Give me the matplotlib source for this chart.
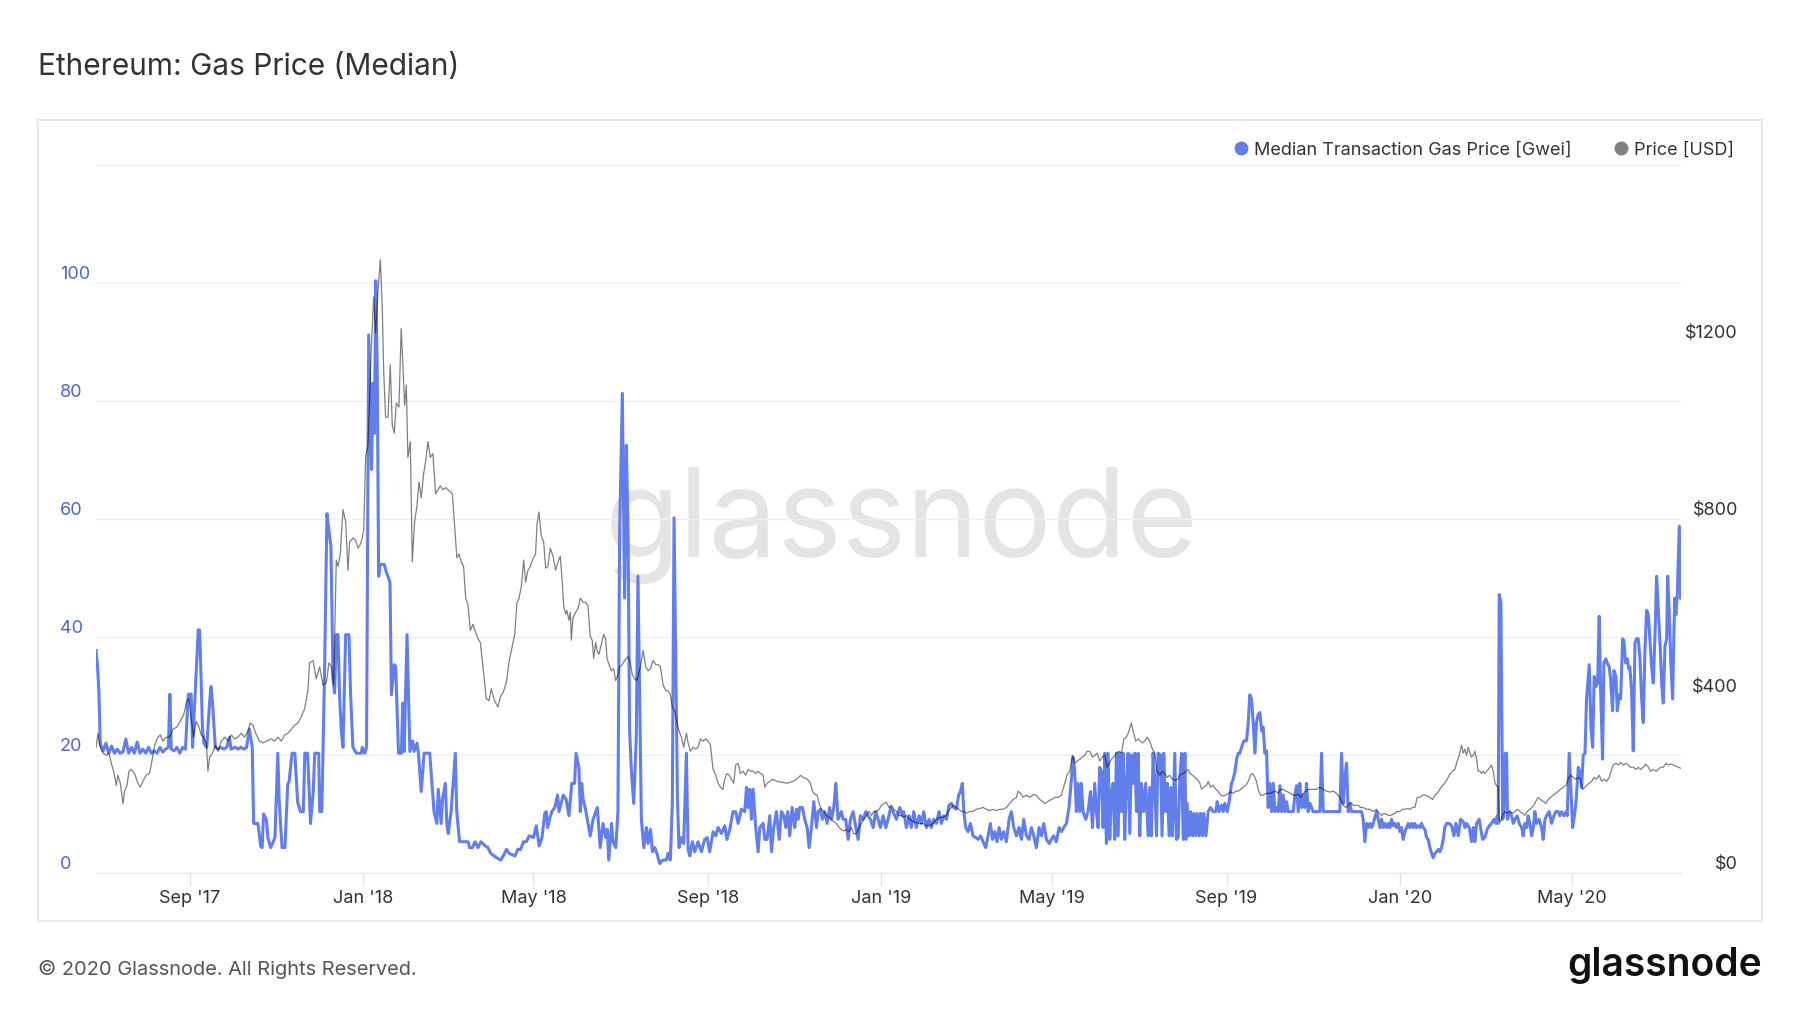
import numpy as np
import matplotlib
matplotlib.use("Agg")
import matplotlib.pyplot as plt
import matplotlib.dates as mdates
from matplotlib.lines import Line2D
from matplotlib.patches import Rectangle

plt.rcParams['font.family'] = ['Inter', 'DejaVu Sans']

### data (x = days after 2017-06-27)
START = "2017-06-27"

gas_day = [
    0, 1, 2, 3, 5, 7, 9, 11, 13, 15, 17, 19, 21, 23, 25, 27, 29, 31, 33, 35, 37, 39, 41, 43, 45, 47, 49, 51,
    52, 53, 55, 57, 59, 61, 63, 65, 67, 68, 71, 72, 73, 75, 76, 78, 80, 81, 82, 84, 86, 88, 90, 92, 94, 95,
    98, 100, 102, 104, 106, 108, 110, 111, 114, 116, 117, 118, 120, 121, 123, 126, 128, 129, 131, 133, 135,
    136, 138, 140, 142, 144, 146, 147, 149, 151, 153, 154, 156.8, 157.5, 159, 161, 162.6, 164.5, 165.4,
    166.9, 168, 169.2, 170.4, 171.5, 172.7, 173.9, 175.8, 178.1, 179.3, 180.9, 183.3, 186.8, 187.5, 189.2,
    190.5,
    192, 194, 195, 196, 197, 198, 199, 200, 203, 204, 207, 208, 210, 211, 213, 215, 216, 217, 219, 221, 223,
    224, 226, 227, 229, 231, 235, 237, 238, 240, 241, 243, 244, 246, 247, 248, 250, 253, 254, 256, 262, 263,
    265, 267, 269, 271, 274, 276, 278, 282, 285, 287, 289, 291, 295, 297, 299, 301, 303, 305, 308, 310, 312,
    314, 316, 317, 318, 320, 321, 323, 325, 326, 329, 331, 333, 335, 337, 338, 340, 341, 342, 343, 345, 348,
    350, 353, 355, 357, 359, 360, 361, 363, 364, 366, 367.5, 368.7, 370.6, 372.2, 373.4, 374.6, 375.7, 377,
    378.6, 380.4, 381.6,
    384, 385.7, 387.5, 388.7, 390.4, 391.8, 393.4, 395, 396.9, 399.3, 401.6, 402.8, 404.4, 405.8, 407, 408.2,
    409.4, 410.5, 412.2, 413.8, 415.7, 416.9, 418.1, 419.9, 421.6, 423.9, 426.3, 428.6, 430.3, 432.1, 434.5,
    436.4, 438, 440.4, 442.7, 444.3, 446.2, 448.6, 450.4, 452.1, 454.4, 456.8, 458, 459.1, 460.3, 461.5,
    462.7, 464.5, 466.2, 467.4, 469.7, 470.9, 472.5, 474.4, 475.6, 477.2, 479.1, 481, 482.6, 484.3, 485.7,
    487.1, 488.5, 490.1, 492, 493.2, 494.3, 495.5, 497.4, 499, 500.7, 502.1, 503.7, 505.4, 507.3, 508.4,
    510.1, 511.5, 513.1, 514.8, 516.6, 517.8, 519.5, 520.9, 522.5, 524.9, 526, 527.9, 529.6, 531.2, 533.1,
    535, 536.6, 538.2, 540.1, 542, 543.6, 545.3, 547.2, 549, 550.7, 552.3, 554.2, 556.1, 557.7, 559.6,
    561.2, 563.6, 565.9, 567.8,
    568.7, 570.6, 572.5, 574.1, 575.8, 577.6, 579.5, 581.2, 582.8, 584.7, 586.6, 588.2, 589.8, 591.7, 593.6,
    595.2, 596.9, 598.8, 600.6, 602.3, 603.9, 605.8, 607.4, 608.6, 610, 611, 612.4, 614, 615.7, 617.5, 619.4,
    621.1, 622.7, 624.6, 626.5, 628.1, 629.7, 631.2, 632.8, 634.4, 635.9, 637.5, 639.1, 641, 642.9, 644.5,
    646.2, 648.1, 649.9, 651.6, 653.2, 655.1, 657, 658.6, 660.3, 662.1, 664, 665.7, 667.3, 669.2, 671.1,
    672.7, 674.3, 676.2, 678.1, 679.7, 681.4, 683.3, 685.1, 686.8, 688, 689.1, 690.3, 691.5, 692.7, 693.8,
    695, 696.9, 698.5, 700.2, 701.6, 703.2, 704.4, 705.6, 706.7, 707.9, 709.1, 710.3, 711.4, 712.6, 713.8,
    715, 716.1, 717.3, 718.5, 719.7, 720.8, 722, 723.2, 724.3, 725.5, 726.7, 727.9, 729, 730.2, 731.4,
    732.6, 733.7, 734.9, 736.1, 737.7, 739.1, 740.8, 742, 743.1, 744.3, 745.5, 746.7, 747.8, 749.5, 750.6,
    751.8, 753, 754.2, 755.6, 756.7, 757.9, 759.6, 760.7,
    762, 763.1, 764.3, 765.5, 766.7, 767.4, 768.3, 769.7, 770.7, 772.1, 773, 774.4, 775.3, 776.8, 777.7,
    779.1, 780, 781.5, 783.1, 784.7, 786.6, 788.5, 789.4, 790.8, 792.5, 793.7, 794.8, 796.5, 797.9, 799.5,
    800.7, 801.9, 803.1, 804.2, 805.4, 806.6, 808.2, 810.1, 811.3, 812.4, 813.6, 814.8, 816, 817.1, 818.3,
    819.5, 820.7, 821.8, 823, 824.2, 825.3, 826.5, 827.7, 828.9, 830, 831.2, 832.4, 833.6, 834.7, 835.9,
    837.1, 838.3, 839.4, 843, 844.1, 845.3, 846.5, 847.6, 848.8, 850, 851.2, 852.3, 853.5, 854.7, 855.9,
    857, 861.7, 862.9, 864.1, 875.8, 877, 878.2, 879.3, 880.5, 881.7, 882.9, 884, 891.1, 892.2, 893.4,
    894.6, 895.8, 896.9, 898.1, 899.3, 901.6, 902.8, 904, 905.2, 906.3, 907.5, 908.7, 909.9, 911, 912.2,
    913.4, 914.5, 915.7, 916.9, 918.1, 919.2, 920.4, 921.6, 922.8, 923.9, 925.1, 926.3, 927.5, 928.6, 929.8,
    931, 932.2, 933.3, 934.5, 935.7, 936.9, 938, 939.2, 940.4, 941.5, 942.7, 943.9, 945.1, 946.2, 947.4,
    948.6, 949.7, 950.9,
    952.8, 954.5, 956.1, 957.5, 959.2, 960.8, 962.7, 963.9, 965, 966.9, 968.5, 969.7, 970.9, 972.1, 973.9,
    974.9, 976.3, 977.9, 979.6, 981, 982.6, 984.3, 985.7, 986.6, 987.3, 988, 989.2, 990.4, 991.3, 992.3,
    993.2, 993.9, 995.1, 996.7, 997.9, 999.1, 1000.7, 1002.1, 1003.8, 1004.9, 1006.1, 1007.3, 1008.4,
    1009.6, 1010.8, 1012, 1013.1, 1014.3, 1016.2, 1017.8, 1019, 1020.2, 1021.4, 1023.2, 1024.9, 1026.5,
    1027.9, 1029.6, 1030.7, 1031.9, 1033.6, 1035, 1035.9, 1037.3, 1038.3, 1039.7, 1040.6, 1042, 1043.7,
    1044.8, 1046, 1047.2, 1048.4, 1049.5, 1051.4, 1052.6, 1053.8, 1054.9, 1056.1, 1057.3, 1058.4, 1059.4,
    1060.8, 1061.7, 1063.1, 1064.1, 1065.5, 1066.4, 1067.8, 1068.8, 1070.2, 1071.1, 1072.5, 1073.5, 1074.9,
    1075.8, 1077, 1078.2, 1079.3, 1080, 1081.2, 1082.4, 1083.6, 1084.7, 1085.9, 1087.1, 1088.3, 1089.4,
    1090.6, 1091.8, 1093, 1094.1, 1095.3, 1096.5, 1097.7, 1098.8, 1100, 1101.2, 1102.4, 1103.5, 1104.7,
    1105.9, 1106.6, 1107.7, 1108.7, 1110.1, 1111.1, 1111.7, 1112.4, 1113.4, 1114.8, 1115.7,
]

gas_gwei = [
    37.7, 35.3, 30.9, 22, 20.7, 22, 20.3, 21.5, 20.3, 21, 20.3, 20.5, 22.7, 20.3, 21.3, 20.3, 22.2, 20.3, 21,
    20.3, 21.3, 20.3, 20.7, 20.3, 21.3, 20.5, 21, 21.3,
    30.3, 21, 20.7, 21.3, 20.3, 21.3, 21, 30.3, 30.3, 21.3, 36.3, 41.2, 41.2, 24.4, 22, 21.3, 29, 31.6, 29,
    21.3, 21, 21.3, 21, 21.3, 23, 21,
    21.3, 21, 21.3, 21, 21.3, 24.4, 21.3, 8.4, 8.4, 4.5, 4.3, 10, 9, 6, 4.3, 6, 20.3, 12, 4.3, 4.3, 15,
    15.5, 20.3, 20.3, 12, 10.4, 10.4, 20.3, 20.3, 8.4, 14, 20.3, 20.3, 10.4, 10.4, 35, 60.9, 57, 55.4,
    32.9, 30.5, 40.4, 40.4, 30, 24.1, 21.3, 40.4, 40.4, 30, 21.3, 20.3, 20.3, 21.3, 20.3,
    21.3,
    91.2, 68.4, 83, 74.5, 100.4, 85.8, 50.3, 52.3, 52.3, 51.3, 49.3, 30.2, 35.3, 35, 20.3, 20.3, 28.8, 20.6,
    40.4, 20.6, 22.4,
    20.6, 22, 20.3, 13.8, 20.3, 20.3, 13.8, 10.4, 8.4, 14.2, 8.4, 12.5, 15.2, 8.4, 6.7, 10.4, 20.3, 10.4,
    5.3, 5.3, 4.3,
    4.3, 5.3, 4.3, 5.3, 4.6, 4.3, 3.3, 2.6, 2.2, 3, 4, 3.3, 2.9, 4, 4, 5.3, 5.3, 6.3, 6.0, 8, 4.6,
    6, 10.1, 10.4, 7.7, 9.7, 10.4, 11.1, 13.2, 10.4, 13.2, 12.5, 9.7, 15.2, 15.2, 20.3, 17.9, 10.4, 15.2,
    12.5, 10.4, 6.3,
    9.1, 11.1, 4.3, 8.4, 6.0, 7.4, 2.2, 8.4, 5.3, 4.3, 10.4, 58.1, 81.3, 46.6, 72.5, 58.1, 24.1, 17.2,
    11.8, 22.7, 50.3,
    9.1, 4.3, 7.7, 5.0, 7.4, 3.6, 4.3, 3.3, 1.6, 2.2, 2.2, 3.3, 2.2, 11.8, 60.2, 36.3,
    12.5, 4.3, 6.0, 5.0, 20.3, 4.0, 2.9, 5.3, 3.6, 5.3, 3.6, 5.7, 6.0, 3.6, 7.0,
    6.3, 7.7, 6.7, 8.0, 5.7, 7.4, 10.4, 10.4, 8.4, 10.8, 10.4, 14.5, 11.1, 14.2, 9.1,
    14.2, 7.7, 3.6, 7.7, 8.4, 5.7, 5.7, 9.7, 3.6, 7.7, 10.4, 5.7, 10.4, 9.7, 7.7,
    10.4, 6.3, 11.1, 7.7, 10.8, 9.1, 11.1, 11.1, 9.1, 7.7, 4.3, 7.7, 12.1, 7.7, 10.4,
    10.8, 9.1, 10.4, 8.4, 11.1, 9.1, 11.1, 15.2, 9.1, 10.4, 9.1, 9.1, 5.7, 9.1, 10.4,
    7.7, 5.7, 9.7, 9.1, 10.4, 9.7, 9.1, 7.7, 10.4, 9.1, 7.7, 9.7, 7.7, 9.1, 11.1,
    10.4, 9.1, 11.1, 9.7,
    10.4, 7.7, 9.7, 7.7, 10.4, 7.7, 9.7, 8.4, 10.4, 7.7, 9.1, 7.7, 9.1, 8.4, 10.4,
    8.4, 9.7, 9.1, 11.5, 11.8, 11.1, 10.8, 13.2, 13.8, 15.2, 10.4, 7.7, 7.0, 8.4, 6.3, 6.0,
    5.7, 6.3, 5.3, 4.3, 6.3, 8.4, 5.7, 7.0, 5.3, 7.7, 5.7, 7.0, 5.3, 9.1, 10.4,
    7.7, 6.3, 7.7, 5.7, 9.1, 6.3, 5.7, 7.7, 6.3, 4.3, 7.7, 6.3, 8.4, 5.7, 5.0,
    5.7, 6.3, 5.3, 7.7, 7.0, 7.7, 8.4, 11.1, 15.9, 19.6, 17.2, 10.4, 15.2, 10.4, 15.2,
    10.4, 9.1, 10.4, 13.8, 7.7, 15.2, 10.4, 7.7, 17.9, 17.2, 7.7, 20.3, 5.0, 20.3, 5.7,
    13.8, 15.2, 5.7, 20.3, 6.3, 20.3, 10.4, 20.3, 5.7, 15.2, 20.3, 6.7, 20.0, 15.2, 20.3,
    10.4, 20.3, 6.3, 15.2, 10.4, 15.2, 6.3, 14.5, 6.3, 20.3, 15.2, 6.3, 20.3, 20.0, 6.3,
    20.3, 10.4, 15.2, 6.3, 14.5, 6.3, 20.3, 5.7,
    6.0, 15.9, 20.3, 5.7, 20.3, 5.7, 11.8, 6.3, 10.4, 6.3, 10.1, 6.3, 10.1, 6.3, 10.1,
    6.3, 10.1, 6.3, 10.4, 11.1, 10.4, 10.4, 12.1, 10.4, 11.5, 10.4, 11.8, 10.4, 12.1, 15.2,
    15.9, 17.2, 19.3, 20.3, 20.3, 21.3, 22.4, 22.4, 25.5, 30.2, 29.5, 25.5, 20.3, 25.5, 26.9,
    27.2, 24.1, 24.7, 20.3, 20.7, 11.1, 15.2, 10.4, 15.2, 10.4, 11.1, 10.4, 14.8, 10.4, 13.2,
    10.4, 12.1, 10.4, 10.4, 13.2, 14.8, 10.4, 15.2, 11.1, 13.2, 11.1, 15.2, 10.4, 11.8, 11.1,
    10.4, 10.4, 20.3, 10.4, 10.4, 20.3, 11.8, 15.9, 18.6, 10.4, 11.8, 10.4, 10.4, 9.1, 5.3,
    8.4, 7.7, 8.4, 7.7, 8.4, 10.4, 9.1, 7.7, 9.1, 7.7, 8.4, 7.7, 8.4, 7.7, 9.1,
    8.0, 8.4, 7.7, 8.4, 7.0, 7.7, 5.7, 7.0, 7.7, 8.4, 7.7, 8.4, 7.7, 8.4, 7.7,
    8.0, 7.7, 8.4, 7.7, 7.4, 6.0, 5.7, 4.3, 3.3, 2.6, 3.3, 3.6, 4.0, 3.6, 4.3,
    5.7, 7.7, 8.4,
    8.4, 8.0, 6.3, 8.4, 6.3, 9.1, 8.7, 7.7, 8.4, 7.7, 5.3, 7.7, 5.3, 8.4, 9.1,
    7.7, 5.7, 6.0, 7.4, 8.0, 8.4, 9.1, 8.4, 9.7, 8.4, 47.2, 45.8, 9.1, 9.7, 20.3,
    20.3, 9.1, 10.4, 9.7, 8.4, 9.1, 9.7, 8.4, 7.7, 6.3, 8.4, 7.7, 9.7,
    8.4, 6.3, 7.7, 10.4, 8.4, 9.1, 7.7, 5.7, 9.1, 9.7, 10.4, 8.4, 9.7,
    10.4, 10.4, 9.7, 10.4, 9.7, 10.4, 9.7, 20.3, 15.2, 7.7, 9.1, 11.8, 17.9,
    17.2, 14.5, 20.0, 20.3, 29.5, 35.3, 24.7, 21.3, 33.3, 31.6, 32.2, 43.5, 30.9,
    19.3, 35.6, 36.3, 35.6, 34.9, 32.9, 27.5, 34.3, 33.3, 27.5, 30.2, 29.5, 39.7,
    39.4, 35.6, 36.3, 34.6, 34.9, 30.9, 20.7, 39.0, 39.7, 39.7, 36.3, 29.5, 25.5,
    37.7, 44.5, 43.8, 39.7, 35.0, 32.2, 40.4, 50.3, 44.5, 39.0, 32.2, 28.8, 38.4,
    39.7, 50.3, 44.5, 36.3, 29.5, 41.8, 46.6, 43.8, 47.2, 58.8, 46.6,
]

price_day = [
    0, 1.4, 2.5, 4.9, 7.2, 9.1, 10.8, 12.4, 14.3, 15.4, 17.1, 19, 20.1, 21.8, 23.2, 24.8, 27.2, 29.5, 31.2,
    33, 35.4, 37.7, 39.6, 41.3, 43.6, 45.3, 47.1, 49.5, 51.8, 54.2, 57, 59.3, 61.7, 64, 65.4, 67.1, 68.7,
    70.6, 72.5, 74.1, 75.8, 77.7, 78.8, 80, 81.9, 84.2, 85.9, 88.2, 90.6, 92.9, 95.3, 97.6, 100, 102.3,
    104.6, 107, 108.6, 110.5, 112.9, 115.2, 117.6, 119.9, 123.4, 125.8, 128.1, 130.5, 132.8, 135.2, 137.5,
    139.9, 142.2, 144.5, 146.9, 149.2, 150.4, 152.8, 155.1, 157.5, 159.8, 162.2, 164, 165.7, 167.3, 169.2,
    170.4, 172, 173.9, 175.8, 177.4, 178.6, 181, 182.8, 184.5, 186.1, 187.5, 188.5, 189.9, 191.5,
    192.6, 193.8, 195.5, 196.9, 198.5, 200.2, 201.6, 202.5, 203.9, 205.6, 207.2, 208.6, 210, 211.4, 213.3,
    214.9, 216.1, 217.3, 218.5, 219.6, 221.3, 222.7, 224.3, 226, 227.4, 229, 230.7, 232.1, 233.7, 235.4,
    237.2, 239.1, 240.8, 242.4, 244.3, 246.2, 247.8, 249.4, 250.9, 252.5, 254.1, 255.6, 257.2, 258.8, 260.3,
    261.9, 263.5, 265.4, 267.3, 268.9, 270.6, 272.9, 274.8, 276.7, 278.3, 280.7, 283, 284.7, 286.5, 288.9,
    291.2, 293.1, 294.8, 296.4, 297.8, 299.5, 301.1, 302.5, 304.1, 305.8, 307.7, 309.5, 310.5, 311.9, 313.5,
    315.2, 316.6, 318.2, 319.9, 321.8, 323.6, 325.3, 326.9, 328.3, 329.3, 330.7, 331.6, 333, 334, 334.7,
    335.8, 337.7, 339.4, 341, 342.9, 344.8, 346.4, 348, 349.4, 350.4, 351.8, 352.7, 354.1, 355.8, 357.4,
    358.8, 359.8, 361.2, 362.8, 364.5, 365.9, 367.5, 368.7, 370.6, 372.2, 374.6, 376.2, 377.6, 379.3, 380.9,
    383.3, 385.2, 387.1, 388.7, 390.4, 392.2, 394.1, 395.8, 397.4, 399.3, 401.2, 402.8, 404.4, 405.8, 407.5,
    409.1, 410.5, 412.2, 413.8, 415.7, 416.9, 418.5, 420.4, 422.3, 423.9, 425.6, 427.4, 429.3, 431, 432.6,
    434.5, 436.4, 438, 439.6, 441.5, 442.7, 444.3, 445.8, 447.4, 449, 450.4, 452.1, 453.7, 455.6, 457.5,
    459.1, 460.8, 462.7, 464.5, 466.2, 467.8, 469.7, 470.9, 472.5, 474.4, 476.3, 479.6, 483.3, 486.6, 490.8,
    494.3, 496, 497.9, 499.7, 501.4, 503, 504.4, 506.1, 507.7, 509.1, 510.8, 512.4, 514.3, 516.2, 517.8,
    519.5, 521.3, 523.2, 524.9, 526.5, 528.4, 530.3, 531.9, 533.5, 535.4, 537.3, 538.9, 540.6, 542.5, 544.3,
    546, 547.6, 549.5, 551.4, 553, 554.7, 556.5, 558.4, 560.1, 561.7, 563.6, 565.5, 567.1, 568.8, 570.6,
    572.9, 575.3, 577.6, 580, 582.3, 584.7, 587, 589.4, 591.7, 594.1, 596.4, 598.8, 601.1, 603.5, 605.8,
    607.7, 609.3, 611, 612.8, 615.2, 617.5, 619.9, 622.2, 624.6, 626.9, 629.3, 631.6, 634, 636.3, 638.7,
    641, 643.4, 645.7, 648.1, 649.2, 650.9, 652.8, 655.1, 657.5, 659.8, 662.1, 664.5, 666.4, 668, 670.4,
    672.7, 675.1, 677.4, 679.7, 682.1, 683.7, 685.6, 687.5, 689.1, 690.8, 692.7, 694.5, 696.2, 697.8, 699.7,
    701.6, 703.2, 704.9, 706.7, 708.6, 710.3, 711.9, 713.3, 715, 716.6, 718.5, 720.4, 722, 723.7, 725.5,
    727.4, 729, 730.2, 732.1, 733.7, 735.4, 736.8, 738.4, 740.1, 742, 743.8, 745.5, 747.1, 749, 750.9,
    752.5, 754.2, 756, 757.9, 759.6, 761.9,
    763.1, 765.5, 767.8, 769, 770.2, 772.1, 773.7, 775.3, 777.2, 778.4, 780, 781.9, 783.1, 784.7, 786.6,
    788.5, 790.1, 791.8, 793.7, 795.5, 797.2, 798.8, 800.7, 802.6, 804.2, 805.9, 807.7, 809.6, 811.3, 812.9,
    814.3, 816, 817.1, 818.3, 819.9, 821.8, 823.7, 825.3, 827, 828.9, 830.7, 832.4, 834, 835.9, 837.8,
    839.4, 841.1, 843, 844.8, 846.5, 848.1, 850, 851.9, 853.5, 855.2, 857, 859.4, 861.7, 864.1, 866.4,
    868.8, 871.1, 873.5, 875.8, 878.2, 880, 881.7, 883.3, 885.2, 887.1, 888.7, 890.4, 892.2, 894.6, 896.9,
    899.3, 901.6, 903.5, 905.2, 906.8, 908.7, 911, 912.9, 914.6, 916.2, 918.1, 920, 921.6, 923.2, 925.1,
    927, 928.6, 930.3, 932.2, 934, 935.7, 937.3, 939.2, 941.1, 942.7, 944.4, 946.2, 948.1, 949.7, 951.4,
    952.8, 953.8, 955.2, 956.8, 958.4, 959.9, 961.5, 962.7, 963.8, 965, 966.2, 967.4, 968.5, 969.7, 970.9,
    972.1, 973.2, 974.4, 975.6, 976.8, 977.9, 979.1, 980.3, 981.5, 982.6, 983.8, 985, 986.1, 987.3, 988,
    989, 990.4, 992, 993.7, 995.5, 997.4, 999.1, 1000.7, 1002.6, 1004.5, 1006.1, 1007.7, 1009.6, 1010.8,
    1012.4, 1013.8, 1015.5, 1017.1, 1019, 1020.9, 1022.5, 1024.2, 1026.1, 1027.9, 1029.6, 1031.2, 1033.1,
    1035, 1036.6, 1038.3, 1040.1, 1042, 1043.7, 1045.3, 1046.7, 1048.4, 1049.5, 1051.4, 1053.1, 1054.7,
    1056.6, 1058.4, 1060.1, 1061.7, 1063.6, 1065.5, 1067.1, 1068.3, 1070.2, 1071.8, 1073.5, 1075.4, 1077.2,
    1078.9, 1080.5, 1082.4, 1084.3, 1085.9, 1087.6, 1089.4, 1091.3, 1093, 1094.6, 1096.5, 1098.4, 1100,
    1101.6, 1103.5, 1105.4, 1107.1, 1108.7, 1110.6, 1112.5, 1114.1, 1115.7,
]

price_usd = [
    284, 316, 289, 271, 266, 271, 248, 230, 198, 221, 203, 157, 185, 198, 230, 234, 225, 203, 194,
    207, 221, 225, 257, 289, 307, 312, 298, 307, 307, 325, 330, 343, 357, 389, 394, 349, 307,
    343, 330, 312, 307, 294, 230, 262, 271, 289, 275, 298, 307, 298, 312, 303, 307, 316,
    307, 321, 339, 334, 312, 298, 294, 298, 303, 298, 307, 298, 312, 316, 325,
    334, 339, 353, 371, 412, 475, 480, 439, 466, 425, 430, 475, 466, 425, 707,
    693, 721, 821, 794, 684, 748, 757, 752, 734, 743, 757, 775, 943, 966,
    1066, 1184, 1302, 1221, 1312, 1386, 1275, 1139, 1030, 1030, 1148, 1012, 994, 1062, 1053,
    1230, 1148, 1057, 1103, 939, 975, 703, 793, 830, 884, 848, 903, 930, 975, 939,
    948, 857, 866, 875, 866, 871, 866, 862, 857, 784, 712, 721, 703, 693, 621,
    607, 548, 562, 544, 530, 521, 453, 394, 389, 416, 389, 375, 398, 407, 430,
    485, 512, 539, 611, 620, 648, 707, 657, 684, 693, 711, 720, 788, 816, 762,
    748, 689, 693, 734, 716, 684, 703, 716, 657, 603, 585, 593, 571, 589, 526,
    576, 589, 598, 621, 612, 612, 603, 535, 526, 485, 521, 503, 494, 517, 539,
    530, 485, 471, 457, 462, 435, 448, 466, 471, 480, 489, 476, 448, 439, 435,
    466, 503, 466, 457, 462, 480, 471, 471, 466, 425, 412, 412, 403, 375, 366,
    339, 321, 307, 284, 316, 294, 275, 284, 280, 284, 303, 298, 303, 298, 289,
    234, 221, 203, 194, 189, 212, 225, 221, 212, 203, 244, 248, 225, 230, 221,
    234, 230, 230, 225, 230, 225, 221, 194, 203, 207, 212, 207, 205, 203, 207,
    214, 221, 216, 214, 210, 203, 185, 178, 176, 157, 144, 139, 130, 126, 121,
    116, 112, 103, 98, 95, 98, 94, 103, 89, 89, 103, 112, 121, 130, 139,
    130, 139, 139, 144, 153, 157, 160, 148, 153, 144, 139, 130, 130, 126, 130,
    121, 116, 114, 112, 112, 107, 107, 112, 121, 126, 126, 130, 144, 153, 148,
    144, 139, 139, 135, 139, 139, 144, 146, 148, 144, 141, 144, 141, 144, 144,
    148, 157, 166, 171, 185, 180, 171, 176, 171, 177, 176, 166, 162, 157, 162,
    166, 171, 171, 176, 203, 221, 230, 266, 248, 253, 257, 262, 266, 275, 275,
    262, 266, 271, 253, 262, 266, 239, 248, 257, 262, 271, 275, 271, 303, 307,
    321, 339, 321, 298, 303, 298, 294, 298, 307, 298, 280, 271, 230, 221, 230,
    225, 216, 221, 212, 210, 212,
    221, 225, 230, 234, 225, 221, 216, 212, 203, 189, 194, 198, 207, 194, 198,
    189, 185, 176, 174, 176, 180, 183, 180, 185, 185, 189, 194, 198, 207, 221,
    225, 216, 207, 189, 176, 176, 180, 180, 180, 183, 185, 180, 189, 189, 185,
    183, 180, 176, 176, 178, 171, 180, 185, 189, 189, 189, 189, 194, 189, 185,
    183, 185, 180, 171, 153, 148, 153, 159, 153, 153, 153, 148, 148, 144, 144,
    139, 144, 135, 130, 135, 132, 130, 132, 135, 139, 139, 144, 144, 146, 144,
    148, 148, 171, 171, 176, 176, 174, 171, 166, 176, 180, 189, 198, 203, 212,
    221, 225, 230, 234, 253, 266, 289, 271, 280, 266, 284, 271, 262, 266, 275,
    257, 230, 230, 225, 230, 225, 230, 234, 239, 244, 230, 203, 198, 194, 121,
    116, 130, 139, 135, 139, 135, 139, 144, 139, 135, 130, 139, 144, 148,
    153, 162, 171, 166, 162, 157, 166, 171, 176, 180, 185, 189, 194,
    198, 212, 221, 216, 212, 216, 212, 189, 194, 198, 203, 207, 216,
    212, 221, 207, 212, 207, 216, 234, 244, 248, 244, 250, 244, 248,
    244, 239, 239, 234, 239, 234, 239, 246, 239, 230, 234, 230, 234,
    239, 239, 248, 244, 246, 244, 241, 239, 237,
]

gas_ticks = [0, 20, 40, 60, 80, 100, 120]
gas_tick_labels = ["0", "20", "40", "60", "80", "100", ""]
usd_ticks = [0, 400, 800, 1200, 1600]
usd_tick_labels = ["$0", "$400", "$800", "$1200", ""]
month_ticks = ["2017-09-01", "2018-01-01", "2018-05-01", "2018-09-01", "2019-01-01",
               "2019-05-01", "2019-09-01", "2020-01-01", "2020-05-01"]

ETH_BLUE = "#627eea"

W, H = 1800, 1013
fig = plt.figure(figsize=(18, 10.13), dpi=100)


def fx(px):
    return px / W


def fy(py):
    return 1 - py / H


# light frame around the chart
fig.patches.append(Rectangle((fx(38), fy(921)), fx(1762) - fx(38), fy(120) - fy(921),
                             transform=fig.transFigure, fill=False, ec="#e4e4e4", lw=1.2))

ax = fig.add_axes([fx(96), fy(873), fx(1681) - fx(96), fy(165) - fy(873)])
ax2 = ax.twinx()

x0 = mdates.date2num(np.datetime64(START))
gas_x = x0 + np.array(gas_day)
price_x = x0 + np.array(price_day)

ax.text(0.508, 0.446, "glassnode", transform=ax.transAxes, ha="center", va="baseline",
        fontsize=88, color="#e4e4e4", zorder=0)
ax.plot(gas_x, gas_gwei, color=ETH_BLUE, lw=2.2, zorder=3)
ax2.plot(price_x, price_usd, color="black", alpha=0.5, lw=0.9)

ax.set_xlim(x0, x0 + 1116)
ax.set_ylim(0, 120)
ax2.set_ylim(0, 1600)

ax.set_yticks(gas_ticks, gas_tick_labels, ha="left", va="bottom", color="#4f66c8", fontsize=13)
ax.tick_params(axis="y", length=0, pad=26)
ax2.set_yticks(usd_ticks, usd_tick_labels, ha="right", va="bottom", color="#333333", fontsize=13)
ax2.tick_params(axis="y", length=0, pad=41)

ax.set_xticks(mdates.date2num(np.array(month_ticks, dtype="datetime64[D]")))
ax.xaxis.set_major_formatter(mdates.DateFormatter("%b '%y"))
ax.tick_params(axis="x", length=9, width=1, color="#e2e2e2", labelsize=13, labelcolor="#333333", pad=3)

ax.grid(axis="y", color="#efefef", lw=1)
for a in (ax, ax2):
    for s in a.spines.values():
        s.set_visible(False)
ax.spines["bottom"].set_visible(True)
ax.spines["bottom"].set_color("#e4e4e4")

handles = [Line2D([], [], ls="", marker="o", ms=9, color=ETH_BLUE),
           Line2D([], [], ls="", marker="o", ms=9, color="#808080")]
fig.legend(handles, ["Median Transaction Gas Price [Gwei]", "Price [USD]"], loc="center right",
           bbox_to_anchor=(fx(1734), fy(150)), ncol=2, frameon=False, fontsize=13,
           handlelength=0.7, handletextpad=0.35, columnspacing=2.4, borderaxespad=0,
           borderpad=0, labelcolor="#333333")

fig.text(fx(38), fy(67), "Ethereum: Gas Price (Median)", fontsize=21.5, color="#333333",
         ha="left", va="center")
fig.text(fx(38), fy(969), "© 2020 Glassnode. All Rights Reserved.", fontsize=14.4, color="#555555",
         ha="left", va="center")
fig.text(fx(1762), fy(965), "glassnode", fontsize=28, fontweight="semibold", color="#111111",
         ha="right", va="center")

fig.savefig("out.png", dpi=100)
